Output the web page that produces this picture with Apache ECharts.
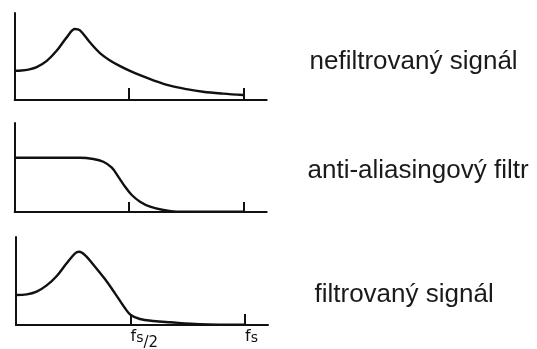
<!DOCTYPE html>
<html>
<head>
<meta charset="utf-8">
<script src="https://cdn.jsdelivr.net/npm/echarts@6/dist/echarts.min.js"></script>
<style>
  html, body { margin: 0; padding: 0; background: #fff; }
  #chart { width: 537px; height: 349px; }
</style>
</head>
<body>
<div id="chart"></div>
<script>
// Frequency axis is normalised to the sampling frequency fs (fs/2 = 0.5, fs = 1).
const tickValues = [0.5, 1.0];
const tickLabels = ['{f|f}{s|s}{d|/2}', '{f|f}{s|s}'];

// Unfiltered signal spectrum
const rawFreq = [0, 0.03, 0.06, 0.096, 0.14, 0.183, 0.227, 0.263, 0.285, 0.329, 0.372, 0.416, 0.46, 0.503, 0.547, 0.6, 0.678, 0.75, 0.822, 0.91, 0.997];
const rawAmp  = [0.337, 0.339, 0.35, 0.378, 0.45, 0.565, 0.72, 0.816, 0.8, 0.66, 0.54, 0.455, 0.39, 0.335, 0.285, 0.232, 0.165, 0.125, 0.095, 0.073, 0.057];

// Anti-aliasing low-pass filter response
const filtFreq = [0, 0.15, 0.285, 0.343, 0.387, 0.424, 0.452, 0.482, 0.511, 0.547, 0.591, 0.649, 0.707, 0.85, 1.0];
const filtAmp  = [0.61, 0.61, 0.61, 0.596, 0.565, 0.498, 0.397, 0.284, 0.191, 0.116, 0.06, 0.022, 0.004, 0.002, 0.002];

// Filtered signal spectrum
const outFreq = [0, 0.047, 0.09, 0.134, 0.178, 0.221, 0.258, 0.276, 0.301, 0.345, 0.389, 0.432, 0.476, 0.501, 0.541, 0.6, 0.672, 0.8, 1.0];
const outAmp  = [0.341, 0.348, 0.38, 0.45, 0.557, 0.701, 0.815, 0.833, 0.795, 0.663, 0.519, 0.36, 0.19, 0.114, 0.068, 0.045, 0.031, 0.01, 0.004];

const panelNames = ['nefiltrovaný signál', 'anti-aliasingový filtr', 'filtrovaný signál'];

const ink = '#111';
const pairs = (xs, ys) => xs.map((x, i) => [x, ys[i]]);

const grids = [
  { left: 14.7, top: 13,  width: 252, height: 87, outerBoundsMode: 'none' },
  { left: 14.7, top: 123, width: 252, height: 89, outerBoundsMode: 'none' },
  { left: 16,   top: 237, width: 252, height: 88, outerBoundsMode: 'none' }
];
const tickLen = [12, 10, 11];

const labelFont = 'DejaVu Sans';
const xAxes = grids.map((g, i) => ({
  type: 'value', gridIndex: i, min: 0, max: 1.1,
  axisLine: { show: true, onZero: false, lineStyle: { color: ink, width: 2 } },
  splitLine: { show: false },
  axisTick: { show: true, inside: true, length: tickLen[i], customValues: tickValues,
              lineStyle: { color: ink, width: 2 } },
  axisLabel: {
    show: i === 2, customValues: tickValues, margin: 4, align: 'left',
    formatter: v => tickLabels[tickValues.indexOf(v)],
    rich: {
      f: { fontFamily: labelFont, fontSize: 16, color: ink, verticalAlign: 'bottom', padding: [0, 0, 6, 0] },
      s: { fontFamily: labelFont, fontSize: 14, color: ink, verticalAlign: 'bottom', padding: [0, 0, 6, 0] },
      d: { fontFamily: labelFont, fontSize: 15, color: ink, verticalAlign: 'bottom' }
    }
  }
}));

const yAxes = grids.map((g, i) => ({
  type: 'value', gridIndex: i, min: 0, max: 1,
  axisLine: { show: true, lineStyle: { color: ink, width: 2 } },
  axisTick: { show: false }, axisLabel: { show: false }, splitLine: { show: false }
}));

const curves = [pairs(rawFreq, rawAmp), pairs(filtFreq, filtAmp), pairs(outFreq, outAmp)];
const series = curves.map((d, i) => ({
  type: 'line', xAxisIndex: i, yAxisIndex: i, data: d,
  smooth: 0.35, symbol: 'none', silent: true,
  lineStyle: { color: ink, width: 2.4 }
}));

const labelPos = [[309.5, 63.7], [307.5, 173], [314.5, 297]];
const graphic = panelNames.map((t, i) => ({
  type: 'text', left: labelPos[i][0], top: labelPos[i][1] - 15,
  style: { text: t, fill: '#1a1a1a', font: '26px "Liberation Sans", Arial, sans-serif' }
}));

const chart = echarts.init(document.getElementById('chart'), null, { renderer: 'canvas' });
chart.setOption({
  animation: false,
  backgroundColor: '#fff',
  grid: grids,
  xAxis: xAxes,
  yAxis: yAxes,
  series: series,
  graphic: graphic
});
</script>
</body>
</html>
